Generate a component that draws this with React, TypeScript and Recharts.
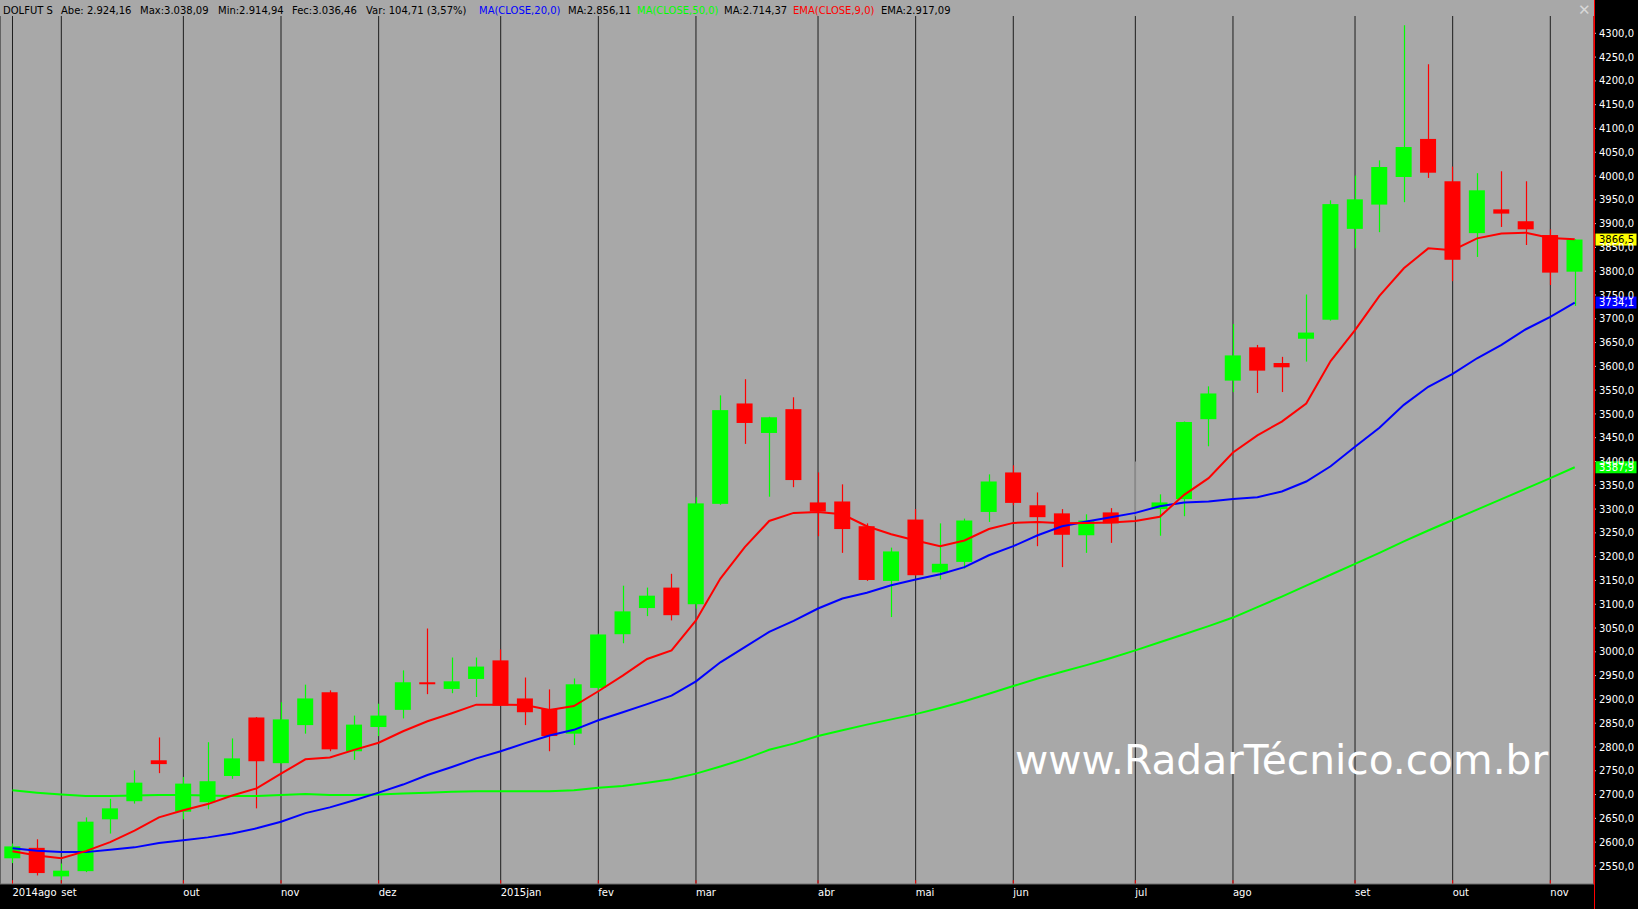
import React from 'react';
import {
  ComposedChart,
  Bar,
  Line,
  XAxis,
  YAxis,
  CartesianGrid,
  ReferenceDot,
  ReferenceLine,
} from 'recharts';

// weekly DOLFUT candles, ago/2014 .. nov/2015
const OPEN = [
  2566, 2588, 2528, 2539, 2648, 2686, 2772, 2664, 2684, 2739, 2862, 2766, 2846, 2915, 2791, 2842,
  2878, 2936, 2922, 2943, 2982, 2902, 2880, 2828, 2924.16, 3037, 3092, 3135, 3100, 3311, 3522, 3460,
  3510, 3314, 3316, 3264, 3149, 3278, 3167, 3189, 3294, 3377, 3308, 3291, 3245, 3293, 3290, 3300,
  3321, 3489, 3570, 3640, 3607, 3658, 3698, 3889, 3940, 3998, 4078, 3989, 3880, 3930, 3905, 3876,
  3799,
];
const HIGH = [
  2597, 2606, 2555, 2652, 2691, 2751, 2820, 2737, 2810, 2818, 2863, 2894, 2931, 2919, 2866, 2891,
  2961, 3049, 2988, 2988, 3005, 2946, 2921, 2944, 3038.09, 3139, 3135, 3164, 3325, 3539, 3573, 3494,
  3535, 3377, 3352, 3270, 3219, 3300, 3270, 3280, 3373, 3392, 3335, 3300, 3289, 3302, 3400, 3331,
  3484, 3558, 3689, 3645, 3620, 3751, 3949, 4001, 4033, 4317, 4235, 4020, 4006, 4010, 3989, 3888,
  3867,
];
const LOW = [
  2556, 2530, 2520, 2537, 2618, 2681, 2745, 2648, 2669, 2733, 2671, 2765, 2828, 2791, 2773, 2823,
  2860, 2911, 2913, 2905, 2886, 2846, 2791, 2804, 2914.94, 3018, 3075, 3066, 3091, 3309, 3437, 3326,
  3346, 3243, 3208, 3149, 3073, 3160, 3152, 3175, 3273, 3308, 3222, 3178, 3208, 3229, 3285, 3244,
  3285, 3432, 3546, 3544, 3546, 3610, 3696, 3848, 3882, 3945, 3996, 3779, 3830, 3893, 3855, 3771,
  3727,
];
const CLOSE = [
  2591, 2535, 2540, 2643, 2671, 2725, 2764, 2723, 2728, 2776, 2770, 2858, 2902, 2795, 2847, 2866,
  2936, 2932, 2938, 2969, 2887, 2873, 2823, 2931.75, 3036.46, 3085, 3118, 3077, 3312, 3508, 3481, 3493,
  3361, 3295, 3258, 3151, 3211, 3161, 3185, 3276, 3358, 3313, 3283, 3246, 3276, 3270, 3290, 3314,
  3483, 3543, 3623, 3591, 3598, 3671, 3941, 3951, 4019, 4061, 4007, 3824, 3970, 3921, 3888, 3797,
  3866.5,
];
const EMA9 = [
  2581, 2572, 2566, 2581, 2600, 2624, 2652, 2667, 2680, 2698, 2713, 2744, 2774, 2778, 2794, 2809,
  2833, 2854, 2871, 2889, 2889, 2888, 2878, 2886, 2917.09, 2950, 2985, 3003, 3066, 3154, 3220, 3275,
  3292, 3294, 3289, 3264, 3247, 3234, 3222, 3234, 3258, 3271, 3273, 3270, 3271, 3272, 3275, 3284,
  3330, 3365, 3419, 3455, 3484, 3522, 3611, 3676, 3748, 3806, 3848, 3844, 3869, 3879, 3881, 3870,
  3867,
];
const MA20 = [
  2587, 2582, 2579, 2579, 2584, 2589, 2598, 2604, 2610, 2618, 2629, 2643, 2661, 2673, 2688, 2704,
  2721, 2741, 2758, 2776, 2791, 2808, 2824, 2836, 2856.11, 2873, 2890, 2908, 2938, 2978, 3010, 3042,
  3065, 3091, 3112, 3124, 3140, 3152, 3163, 3178, 3203, 3222, 3245, 3264, 3274, 3283, 3292, 3306,
  3314, 3316, 3321, 3325, 3337, 3358, 3390, 3431, 3471, 3519, 3557, 3584, 3617, 3645, 3678, 3704,
  3734.1,
];
const MA50 = [
  2709, 2704, 2700, 2697, 2697, 2698, 2699, 2699, 2698, 2697, 2697, 2699, 2701, 2699, 2699, 2700,
  2702, 2704, 2706, 2707, 2707, 2707, 2707, 2709, 2714.37, 2718, 2725, 2732, 2744, 2759, 2775, 2794,
  2807, 2823, 2835, 2847, 2858, 2869, 2882, 2896, 2912, 2928, 2944, 2958, 2972, 2987, 3003, 3020,
  3037, 3054, 3072, 3094, 3116, 3139, 3162, 3185, 3208, 3232, 3255, 3277, 3299, 3321, 3343, 3365,
  3387.9,
];

const MONTH_IDX = [0, 2, 7, 11, 15, 20, 24, 28, 33, 37, 41, 46, 50, 55, 59, 63];
const MONTH_LABELS = [
  '2014ago', 'set', 'out', 'nov', 'dez', '2015jan', 'fev', 'mar',
  'abr', 'mai', 'jun', 'jul', 'ago', 'set', 'out', 'nov',
];
const PRICE_TICKS = [
  2550, 2600, 2650, 2700, 2750, 2800, 2850, 2900, 2950, 3000, 3050, 3100,
  3150, 3200, 3250, 3300, 3350, 3400, 3450, 3500, 3550, 3600, 3650, 3700,
  3750, 3800, 3850, 3900, 3950, 4000, 4050, 4100, 4150, 4200, 4250, 4300,
];

const CURSOR = 24; // candle shown in the header line

const BG = '#a8a8a8';
const UP = '#00ff00';
const DOWN = '#ff0000';
const FONT = '"DejaVu Sans", Verdana, sans-serif';
const X_MIN = -0.512;
const X_MAX = 64.79;
const Y_MIN = 2512;
const Y_MAX = 4370;

const rows = OPEN.map((o, i) => ({
  i,
  o,
  h: HIGH[i],
  l: LOW[i],
  c: CLOSE[i],
  ema: EMA9[i],
  ma20: MA20[i],
  ma50: MA50[i],
}));

const fmtBR = (v: number, d = 2) => {
  const [int, dec] = v.toFixed(d).split('.');
  return `${int.replace(/\B(?=(\d{3})+(?!\d))/g, '.')},${dec}`;
};
const fmtAxis = (v: number) => v.toFixed(1).replace('.', ',');

const prevClose = CLOSE[CURSOR - 1];
const chg = CLOSE[CURSOR] - prevClose;

const HEADER = [
  { x: 3, text: 'DOLFUT S', color: '#000' },
  { x: 61, text: `Abe: ${fmtBR(OPEN[CURSOR])}`, color: '#000' },
  { x: 140, text: `Max:${fmtBR(HIGH[CURSOR])}`, color: '#000' },
  { x: 218, text: `Min:${fmtBR(LOW[CURSOR])}`, color: '#000' },
  { x: 292, text: `Fec:${fmtBR(CLOSE[CURSOR])}`, color: '#000' },
  { x: 366, text: `Var: ${fmtBR(chg)} (${fmtBR((chg / prevClose) * 100)}%)`, color: '#000' },
  { x: 479, text: 'MA(CLOSE,20,0)', color: '#0000ff' },
  { x: 568, text: `MA:${fmtBR(MA20[CURSOR])}`, color: '#000' },
  { x: 637, text: 'MA(CLOSE,50,0)', color: '#00ff00' },
  { x: 724, text: `MA:${fmtBR(MA50[CURSOR])}`, color: '#000' },
  { x: 793, text: 'EMA(CLOSE,9,0)', color: '#ff0000' },
  { x: 881, text: `EMA:${fmtBR(EMA9[CURSOR])}`, color: '#000' },
];

function Candle(props: any) {
  const { x, y, width, height, payload } = props;
  if (x == null || y == null || !payload) return null;
  const { o, h, l, c } = payload;
  const top = Math.min(y, y + height);
  const span = Math.abs(height);
  const k = span / (h - l);
  const yOf = (v: number) => top + (h - v) * k;
  const color = c > o ? UP : c < o ? DOWN : '#8a8a8a';
  const bodyTop = yOf(Math.max(o, c));
  const bodyH = Math.max(yOf(Math.min(o, c)) - bodyTop, 2);
  const cx = Math.round(x + width / 2) + 0.5;
  return (
    <g>
      <line x1={cx} x2={cx} y1={top} y2={top + span} stroke={color} strokeWidth={1.2} />
      {c !== o && <rect x={x} y={bodyTop} width={width} height={bodyH} fill={color} />}
    </g>
  );
}

const MonthTick = ({ x, y, payload }: any) => (
  <text x={x} y={y + 12} fill="#fff" fontSize={10} fontFamily={FONT}>
    {MONTH_LABELS[MONTH_IDX.indexOf(payload.value)]}
  </text>
);

const PriceTick = ({ x, y, payload }: any) => (
  <text x={x} y={y + 3.6} fill="#fff" fontSize={10} fontFamily={FONT} textAnchor="start">
    {fmtAxis(payload.value)}
  </text>
);

const PriceTag = ({ cx, cy, bg, fg, value }: any) => (
  <g>
    <rect x={cx + 1.5} y={cy - 6} width={41} height={12} fill={bg} />
    <text x={cx + 5} y={cy + 3.6} fill={fg} fontSize={10} fontFamily={FONT}>
      {fmtAxis(value)}
    </text>
  </g>
);

const last = rows.length - 1;
const TAGS = [
  { value: CLOSE[last], bg: '#ffff00', fg: '#000' },
  { value: MA20[last], bg: '#0000ff', fg: '#fff' },
  { value: MA50[last], bg: '#00ff00', fg: '#fff' },
];

export default function App() {
  return (
    <div style={{ position: 'absolute', left: 0, top: 0, width: 1638, height: 909, background: '#000' }}>
      <ComposedChart
        width={1638}
        height={909}
        data={rows}
        margin={{ top: 0, right: 0, bottom: 0, left: 0 }}
      >
        <CartesianGrid horizontal={false} stroke="#1e1e1e" fill={BG} fillOpacity={1} />
        <XAxis
          dataKey="i"
          type="number"
          domain={[X_MIN, X_MAX]}
          allowDataOverflow
          ticks={MONTH_IDX}
          interval={0}
          height={25}
          tickSize={0}
          tickMargin={0}
          tickLine={false}
          axisLine={{ stroke: '#6e6e6e' }}
          tick={<MonthTick />}
        />
        <YAxis
          orientation="right"
          width={44}
          domain={[Y_MIN, Y_MAX]}
          allowDataOverflow
          ticks={PRICE_TICKS}
          interval={0}
          tickSize={2}
          tickMargin={3}
          tickLine={{ stroke: '#d0d0d0' }}
          axisLine={{ stroke: '#ff0000' }}
          tick={<PriceTick />}
        />
        <Bar
          dataKey={(d: any) => [d.l, d.h]}
          barSize={16}
          shape={(p: any) => <Candle {...p} />}
          activeBar={false}
          isAnimationActive={false}
        />
        <Line type="linear" dataKey="ma50" stroke="#00ff00" strokeWidth={2} dot={false} activeDot={false} isAnimationActive={false} />
        <Line type="linear" dataKey="ma20" stroke="#0000ff" strokeWidth={2} dot={false} activeDot={false} isAnimationActive={false} />
        <Line type="linear" dataKey="ema" stroke="#ff0000" strokeWidth={2} dot={false} activeDot={false} isAnimationActive={false} />
        {MONTH_IDX.map((m) => (
          <ReferenceLine
            key={`t${m}`}
            segment={[{ x: m, y: Y_MIN }, { x: m, y: Y_MIN + 8 }]}
            stroke="#ff0000"
            ifOverflow="visible"
          />
        ))}
        {TAGS.map((t) => (
          <ReferenceDot
            key={t.bg}
            x={X_MAX}
            y={t.value}
            ifOverflow="visible"
            shape={(p: any) => <PriceTag {...p} bg={t.bg} fg={t.fg} value={t.value} />}
          />
        ))}
      </ComposedChart>
      <svg
        width={1638}
        height={909}
        style={{ position: 'absolute', left: 0, top: 0, pointerEvents: 'none' }}
      >
        <rect x={0} y={0} width={1594} height={16} fill={BG} />
        {HEADER.map((h) => (
          <text key={h.x} x={h.x} y={14} fill={h.color} fontSize={10} fontFamily={FONT}>
            {h.text}
          </text>
        ))}
        <text x={1578} y={15} fill="#d8d8d8" fontSize={15} fontFamily={FONT}>
          ✕
        </text>
        <line x1={1594.5} y1={0} x2={1594.5} y2={909} stroke="#ff0000" />
        <text x={1015} y={774} fill="#fff" fontSize={40.7} fontFamily={FONT}>
          www.RadarTécnico.com.br
        </text>
      </svg>
    </div>
  );
}
